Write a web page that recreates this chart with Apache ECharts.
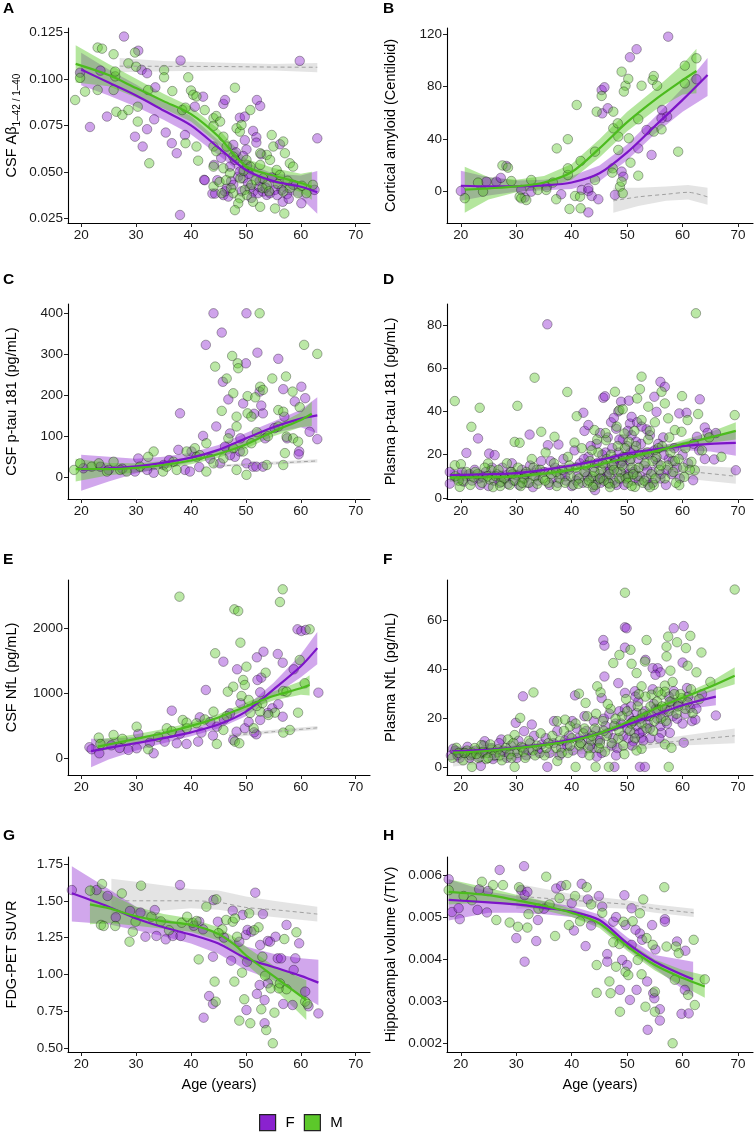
<!DOCTYPE html>
<html><head><meta charset="utf-8">
<script src="https://cdn.jsdelivr.net/npm/echarts@6/dist/echarts.min.js"></script>
<style>html,body{margin:0;padding:0;background:#fff}#c{width:755px;height:1132px}</style>
</head><body><div id="c"></div>
<script>
// ---------- DATA ----------
const X_TICKS = [20, 30, 40, 50, 60, 70];
const SEXES = ['F', 'M'];

// Panel A: CSF Abeta 42/40
const A_yticks = [0.025, 0.05, 0.075, 0.1, 0.125];
const A_F_pts = [[27.8,0.1227],[30.4,0.1151],[38.1,0.1098],[59.8,0.1096],[63.0,0.068],[21.6,0.0741],[24.7,0.0797],[31.0,0.1048],[32.0,0.103],[33.5,0.0954],[29.8,0.0689],[31.2,0.0636],[32.0,0.0729],[33.3,0.0782],[35.4,0.0711],[36.5,0.0654],[37.4,0.060],[38.9,0.0698],[38.0,0.0268],[23.5,0.1044],[19.8,0.1033],[40.7,0.085],[42.2,0.0904],[45.9,0.0865],[46.2,0.0886],[52.0,0.0886],[52.6,0.0854],[48.9,0.0791],[49.8,0.0797],[51.3,0.072],[51.9,0.0686],[51.9,0.0657],[49.8,0.067],[50.1,0.062],[49.5,0.0585],[52.8,0.0594],[56.2,0.0648],[44.2,0.0537],[42.4,0.0457],[42.5,0.0455],[43.9,0.0383],[44.4,0.0383],[45.9,0.0375],[46.8,0.0367],[47.7,0.043],[48.6,0.0474],[48.9,0.0501],[49.5,0.0465],[50.4,0.0438],[51.3,0.0394],[52.2,0.0385],[53.1,0.0394],[53.8,0.0376],[54.4,0.0385],[55.3,0.0403],[56.5,0.0403],[56.7,0.0339],[60.1,0.0331],[62.5,0.0403],[58.6,0.043],[47.7,0.0645],[47.1,0.0528],[48.0,0.0564],[50.5,0.049],[52.5,0.045],[54.8,0.047],[57.5,0.038],[46.5,0.041],[51.0,0.036],[44.8,0.0455],[46.2,0.0395],[47.3,0.045],[49.2,0.0395],[50.7,0.0412],[52.4,0.042],[53.6,0.0415],[55.7,0.0375],[57.8,0.0355],[50.2,0.0535],[48.2,0.0605],[45.5,0.0575]];
const A_M_pts = [[18.9,0.0886],[23.0,0.1168],[23.8,0.1162],[25.9,0.1132],[28.6,0.1083],[29.8,0.1141],[30.0,0.1065],[26.2,0.1013],[26.2,0.1039],[20.7,0.0931],[23.0,0.094],[25.9,0.094],[26.4,0.0823],[27.5,0.0806],[28.6,0.0832],[30.3,0.085],[30.3,0.077],[32.2,0.094],[32.4,0.0546],[35.1,0.1047],[35.1,0.1008],[36.6,0.0934],[38.4,0.0832],[39.0,0.0845],[39.5,0.1008],[40.0,0.0937],[40.4,0.0914],[41.0,0.0905],[39.0,0.0654],[41.0,0.0636],[41.3,0.056],[42.5,0.0832],[44.1,0.0788],[44.6,0.080],[45.3,0.077],[44.1,0.0747],[45.9,0.0689],[46.5,0.0636],[48.0,0.0952],[48.3,0.0734],[48.9,0.0716],[49.2,0.0752],[50.8,0.0832],[54.7,0.0698],[55.0,0.0636],[56.8,0.0663],[57.1,0.060],[58.0,0.0546],[58.6,0.0528],[53.8,0.0591],[52.6,0.060],[44.1,0.0636],[44.6,0.0611],[44.1,0.0528],[45.9,0.0519],[47.1,0.0492],[47.7,0.0582],[50.1,0.0564],[50.8,0.0528],[52.6,0.0537],[54.4,0.0564],[55.6,0.051],[44.1,0.0421],[45.6,0.0385],[47.7,0.0385],[48.9,0.0358],[48.6,0.033],[48.0,0.0294],[49.8,0.0403],[51.0,0.043],[51.3,0.0339],[52.6,0.0312],[53.8,0.043],[55.3,0.0303],[57.0,0.0276],[58.0,0.0412],[59.5,0.0385],[61.0,0.0385],[62.2,0.043],[56.8,0.0394],[56.2,0.0483],[53.1,0.0465],[19.8,0.1005],[45.2,0.0445],[46.4,0.0455],[47.3,0.0412],[49.0,0.0465],[50.2,0.0375],[51.8,0.0455],[53.0,0.0412],[54.2,0.0395],[55.8,0.0435],[57.6,0.0452],[60.2,0.0425],[49.6,0.0505]];
// fit rows: [age, fit, lower, upper]
const A_F_fit = [[20,0.105,0.0965,0.114],[25,0.098,0.091,0.105],[30,0.091,0.085,0.097],[35,0.083,0.078,0.088],[40,0.075,0.070,0.080],[45,0.063,0.059,0.067],[50,0.051,0.047,0.055],[55,0.045,0.041,0.049],[60,0.042,0.036,0.048],[63,0.039,0.0275,0.0505]];
const A_M_fit = [[19,0.108,0.098,0.118],[25,0.102,0.096,0.108],[30,0.095,0.090,0.100],[35,0.088,0.084,0.092],[40,0.081,0.077,0.085],[45,0.069,0.065,0.073],[50,0.053,0.049,0.057],[55,0.048,0.044,0.052],[60,0.044,0.039,0.049],[62,0.042,0.035,0.050]];
const A_ref = [[27,0.1068,0.1035,0.1112],[35,0.1067,0.104,0.1095],[45,0.1066,0.1045,0.1088],[55,0.1063,0.1045,0.108],[63,0.1062,0.1035,0.1085]];

// Panel B: Cortical amyloid
const B_yticks = [0, 40, 80, 120];
const B_F_pts = [[20.0,0.5],[24.6,7.6],[26.4,7.6],[28.2,19.6],[30.9,1.3],[32.7,0],[38.1,-2],[41.8,1.3],[43.0,0.5],[43.6,-3.3],[44.8,-5.8],[43.0,-15.8],[43.0,2.5],[45.4,77.5],[45.9,79.6],[45.5,59.7],[46.5,63.6],[47.8,-2.5],[49.0,15.3],[49.3,11.4],[50.5,102.5],[51.7,108.6],[52.0,33],[53.5,47],[54.4,28],[56.3,62.3],[57.2,57.2],[57.4,118.2],[62.5,85.7],[56.2,55.9],[31.5,-4.5],[35.5,3.5],[27.2,10.5]];
const B_M_pts = [[20.7,-5],[23.1,6.9],[24.0,0],[27.5,20],[28.5,18.3],[29.1,8.1],[30.6,-3.8],[30.9,-5.1],[31.8,-6.4],[32.7,8.9],[33.9,1.3],[35.4,1.3],[36.6,6.9],[37.2,-5.8],[37.3,33],[39.3,40],[39.6,-13.2],[39.3,12.7],[39.3,17.8],[40.6,-3.3],[41.5,-3.8],[40.9,66.1],[41.6,23.4],[41.6,-12.7],[44.2,8.9],[44.2,30.5],[44.5,61],[45.4,73],[47.5,61],[47.5,48.3],[48.3,52.1],[47.4,17.8],[47.3,14.5],[48.4,42],[48.4,31.8],[48.7,3.8],[49.0,7.6],[49.2,-1.3],[49.0,91.5],[49.7,80.8],[49.4,76.3],[50.2,86],[50.3,40.7],[50.6,22.1],[52.0,55.2],[52.0,12.2],[52.6,80.8],[54.6,85.2],[54.8,88.2],[55.4,80.8],[54.8,45.8],[56.2,47.5],[59.2,30.5],[60.4,96.1],[60.4,82.6],[62.5,101.7]];
const B_F_fit = [[20,4.5,-7,16],[25,4,-3,11],[30,4,0,8.5],[35,4.8,1,9],[40,7,2,12],[45,14,8,20],[50,30,24,36],[55,50,44,57],[60,70,61,79],[64.5,89,73,102]];
const B_M_fit = [[20.7,1.5,-16,19],[25,2.5,-6,11],[30,4,-0.5,9],[35,7,2.5,12],[40,15,9,21],[45,33,26,40],[50,53,46,61],[55,70,62,78],[60,85,74,97],[62.5,92,75,109]];
const B_ref = [[47.5,-7,-16,3],[52,-4,-11,3],[57,-2,-7,4],[61,-0.5,-6,5],[64.5,-4,-10,3]];

// Panel C: CSF p-tau 181
const C_yticks = [0, 100, 200, 300, 400];
const C_F_pts = [[44.1,400],[50.1,400],[45.6,353],[42.7,323],[52.1,304],[50.0,278],[55.9,289],[38.0,156],[45.8,233],[46.8,190],[47.1,107],[42.2,101],[44.6,124],[49.5,180],[52.5,209],[53.1,156],[56.8,215],[57.0,148],[58.9,185],[60.1,221],[60.8,193],[61.6,111],[63.0,93],[59.7,63],[59.6,56],[48.0,50],[48.9,63],[50.1,34],[51.3,26],[51.9,26],[47.1,54],[33.2,11],[32.0,18],[29.8,14],[37.7,67],[40.1,63],[38.9,18],[39.8,14],[30.4,46],[20.4,22],[23.5,26],[45.3,34],[53.1,26],[51.5,155],[53.5,95],[55.2,120],[49.0,95],[46.2,75],[43.5,45],[36.0,42],[27.5,21],[25.0,18],[35.0,30],[41.5,25],[57.5,95],[52.8,175]];
const C_M_pts = [[52.5,400],[44.4,270],[47.5,296],[48.5,278],[48.6,266],[46.5,241],[47.7,205],[50.3,198],[51.7,195],[52.6,221],[53.1,213],[54.8,241],[57.3,246],[60.6,323],[63.0,301],[58.5,209],[59.8,171],[45.6,162],[48.3,124],[50.3,156],[51.0,148],[48.3,148],[55.9,164],[56.8,160],[55.9,124],[57.4,99],[58.6,95],[59.5,87],[57.1,59],[56.8,30],[53.8,30],[51.0,83],[49.5,63],[47.7,71],[45.9,46],[44.1,34],[42.8,14],[41.0,50],[40.7,71],[39.2,63],[36.8,38],[34.9,14],[33.2,63],[32.2,50],[27.1,18],[25.9,38],[23.2,34],[18.7,18],[19.8,34],[21.9,26],[24.7,14],[28.3,14],[30.7,26],[35.6,26],[37.4,18],[41.6,54],[48.3,18],[50.1,6],[42.8,83],[54.0,100],[52.0,110],[46.8,95]];
const C_F_fit = [[20,18,-33,55],[25,22,-10,50],[30,27,10,45],[35,36,22,50],[40,48,37,60],[45,67,55,79],[50,95,82,108],[55,122,108,136],[60,143,122,165],[63,151,107,195]];
const C_M_fit = [[19,20,-10,45],[25,20,5,35],[30,23,12,34],[35,30,21,39],[40,41,32,50],[45,57,48,66],[50,80,70,90],[55,112,100,124],[60,140,122,158],[62,155,125,185]];
const C_ref = [[44,27,24,30],[50,31,28,34],[56,35,31,39],[63,40,36,44]];

// Panel D: Plasma p-tau 181
const D_yticks = [0, 20, 40, 60, 80];
const D_F_pts = [[35.6,80.3],[45.7,46.3],[46.0,47],[56.0,53.7],[56.8,51.4],[54.9,46.8],[55.3,39.8],[59.4,39.1],[63.1,45.6],[64.0,32.6],[64.5,30.1],[62.6,28.3],[65.7,17.8],[69.6,12.8],[23.1,27.5],[21.0,20.8],[25.1,20.5],[26.1,19.8],[32.4,29.3],[35.7,24.4],[37.6,24.7],[42.1,39.4],[42.3,31.0],[43.0,33.7],[48.9,44.5],[50.5,34.4],[50.8,37.5],[53.5,31.7],[55.0,22.1],[60.7,39.4],[61.9,8.2],[44.2,3.6],[18.0,6.6],[18.0,12.0],[19.5,9],[20.5,7.5],[21.5,11],[22,8],[22.5,13],[23.5,6],[24,9.5],[24.5,12],[25,5.5],[26,8],[26.5,11],[27,7],[27.5,14],[28,9],[28.5,6.5],[29,12],[29.5,8],[30,10.5],[30.5,6],[31,13],[31.5,9],[32,7],[32.5,15],[33,5],[33.5,10],[34,8],[34.5,17],[35,12],[36,6],[36.5,9],[37,14],[37.5,7],[38,11],[38.5,18],[39,8],[39.5,13],[40,5.5],[40.5,22],[41,10],[41.5,16],[42,7],[42.5,12],[43,19],[43.5,9],[44,14],[44.5,25],[45,11],[45.2,7],[45.5,20],[46,15],[46.3,10],[46.5,28],[47,13],[47.3,23],[47.5,8],[47.8,18],[48,32],[48.2,12],[48.5,21],[48.8,16],[49,9],[49.2,27],[49.5,14],[49.8,19],[50,24],[50.2,11],[50.5,17],[50.8,29],[51,8],[51.2,22],[51.5,13],[51.8,35],[52,18],[52.3,10],[52.5,25],[53,15],[53.5,9],[54,20],[54.5,12],[55.5,16],[56,9],[56.5,28],[57,6],[57.5,18],[58,11],[58.5,23],[59,14],[60,20],[61,16],[62,25],[63,22],[64,18],[66,30],[42.2,18],[42.8,10],[43.4,24],[43.9,6],[44.6,16],[45.1,30],[45.6,9],[46.1,21],[46.6,12],[47.1,35],[47.6,16],[48.1,6],[48.6,27],[49.1,17],[49.6,10],[50.1,31],[50.6,21],[51.1,12],[51.6,26],[52.1,8],[52.6,33],[53.1,20],[53.6,13],[54.1,29],[54.6,7],[55.1,18],[55.6,25],[56.1,11],[56.6,20],[57.1,13],[58.2,17],[59.5,9],[36.2,17],[33.7,13],[31.6,11],[29.2,16],[27.2,10],[25.6,14],[23.2,9],[20.2,12],[38.8,10],[40.8,8],[44.8,8.5],[46.8,6.5],[49.5,6],[53.8,6],[48.4,40],[50.3,45],[47.6,37]];
const D_M_pts = [[18.9,44.8],[23.4,41.7],[21.9,32.9],[33.3,55.6],[30.2,42.6],[39.2,49],[40.9,37.8],[47.8,49.1],[52.6,56.1],[52.3,50.3],[56.2,49.1],[62.4,85.4],[59.9,47.1],[69.4,38.3],[62.8,38.8],[60.9,36],[29.7,25.9],[30.6,25.5],[34.5,30.6],[36.9,28.3],[40.5,25.6],[44.1,31.4],[46.2,26.7],[48.6,40.6],[49.5,29.8],[53.8,42.2],[56.8,43.7],[57.4,36.8],[58.6,31.4],[59.8,30.6],[61.6,16.7],[62.2,12.8],[60.3,9.7],[59.4,5.9],[51.4,5.1],[50.2,9.7],[18.9,15.1],[20,15.6],[24.9,15.9],[25.5,12.8],[19.8,5.1],[19,10],[20.3,8],[21,12],[21.7,6],[22.3,9.5],[23,11],[23.8,7],[24.3,14],[25.2,8.5],[25.8,5],[26.3,10],[26.8,13],[27.3,7.5],[27.8,9],[28.3,16],[28.8,6],[29.3,11],[29.8,8],[30.3,14],[30.8,5.5],[31.3,9],[31.8,12],[32.3,7],[32.8,18],[33.3,10],[33.8,6.5],[34.3,13],[34.8,9],[35.3,21],[35.8,7],[36.3,11],[36.8,16],[37.3,5.5],[37.8,9],[38.3,13],[38.8,7],[39.3,19],[39.8,10],[40.3,6],[40.8,14],[41.3,9],[41.8,23],[42.3,12],[42.8,7],[43.3,17],[43.8,10],[44.3,6],[44.8,21],[45.3,13],[45.8,8],[46.3,18],[46.8,11],[47.3,15],[47.8,7],[48.3,24],[48.8,12],[49.3,19],[49.8,9],[50.3,26],[50.8,14],[51.3,31],[51.8,10],[52.3,20],[52.8,7],[53.3,16],[53.8,27],[54.3,11],[54.8,6],[55.3,19],[55.8,13],[56.3,24],[56.8,9],[57.3,15],[57.8,21],[58.3,12],[58.8,7],[59.3,18],[60.5,23],[61.3,13],[63.5,22],[64.8,28],[67,19],[42.6,15],[43.1,8],[43.6,22],[44.1,12],[44.6,27],[45.1,9],[45.6,16],[46.1,30],[46.6,7],[47.1,20],[47.6,13],[48.1,33],[48.6,9],[49.1,15],[49.6,23],[50.1,7],[50.6,18],[51.1,11],[51.6,24],[52.1,14],[52.6,36],[53.1,8],[53.6,21],[54.1,31],[54.6,17],[55.1,9],[55.6,23],[56.1,15],[57.6,28],[58.6,17],[60.1,14],[37.2,12],[35.2,8],[33.1,14],[31.1,7],[29.1,12],[27.1,5.5],[24.8,10],[22.6,12],[19.6,8],[39.6,15],[41.2,6.5],[43.8,5],[46.9,5],[50.8,5.5],[54.1,5],[49.2,41],[51.8,46],[55.0,35]];
const D_F_fit = [[18,10.5,8,13],[25,11,9.5,12.5],[30,11.5,10,13],[35,13,11.8,14.2],[40,15,14,16],[45,17.5,16.5,18.5],[50,20.5,19.5,21.5],[55,22.5,21,24],[60,24,22,26],[65,25,21.5,28.5],[69.6,25.5,19.5,31]];
const D_M_fit = [[18,9.4,7.5,11.5],[25,9.6,8.3,11],[30,10,9,11],[35,11.2,10.2,12.2],[40,13,12,14],[45,15.5,14.5,16.5],[50,18.5,17.5,19.5],[55,21.5,20.2,22.8],[60,25,23.3,26.7],[65,28,25.5,30.5],[69.6,31,27,35]];
const D_ref = [[57,13,10,15.5],[62,12,8.5,15],[69.6,10,6.5,14]];

// Panel E: CSF NfL
const E_yticks = [0, 1000, 2000];
const E_F_pts = [[21.5,170],[21.9,139],[23.3,77],[28.6,129],[30.1,154],[30.4,375],[33.2,77],[35.2,257],[36.5,735],[37.4,231],[39.2,221],[41.3,257],[41.9,396],[41.6,632],[42.7,1054],[45.9,1491],[48.4,1373],[48.3,411],[49.8,463],[52.0,1558],[53.2,1645],[52.8,1244],[52.1,1208],[52.6,1018],[51.9,370],[52.6,591],[54.8,771],[55.8,1609],[56.7,1475],[55.9,833],[56.7,642],[58.7,1373],[59.4,1990],[60.1,1964],[60.9,1980],[63.2,1013],[44.7,488],[47.1,694],[47.7,283],[25.5,200],[27.0,160],[32.5,240],[38.0,380],[43.5,560],[46.0,600],[50.5,560],[51.5,400],[54.0,700],[49.0,850],[44.0,350]];
const E_M_pts = [[37.9,2494],[47.9,2298],[48.6,2272],[56.7,2607],[56.2,2411],[49.0,1784],[44.4,1620],[50.1,1414],[47.7,1105],[46.7,1028],[49.5,1208],[49.8,1131],[50.5,900],[49.2,961],[53.6,1321],[56.8,1038],[57.4,1028],[59.8,1517],[61.6,1990],[60.7,1157],[59.5,704],[58.0,437],[56.8,396],[55.3,704],[54.1,668],[52.6,720],[48.0,257],[48.8,231],[44.7,221],[45.9,437],[44.1,720],[39.2,463],[38.5,591],[39.2,550],[41.0,540],[35.6,463],[30.1,488],[25.9,360],[23.2,319],[23.5,221],[32.2,139],[51.4,463],[52.0,807],[27.5,300],[34.0,330],[36.5,420],[42.5,600],[46.5,650],[50.8,700],[53.0,850]];
const E_F_fit = [[21.8,110,-140,300],[25,160,-20,300],[30,235,120,330],[35,310,230,390],[40,400,340,460],[45,520,460,580],[50,720,650,800],[55,1060,960,1160],[60,1420,1250,1600],[63,1700,1450,1950]];
const E_M_fit = [[23,180,100,290],[30,300,230,370],[35,390,330,450],[40,500,450,550],[45,630,580,680],[50,800,740,860],[55,960,890,1030],[60,1080,980,1190],[61.6,1130,970,1280]];
const E_ref = [[47,350,320,380],[55,410,385,440],[63,470,440,500]];

// Panel F: Plasma NfL
const F_yticks = [0, 20, 40, 60];
const F_F_pts = [[31.2,29.1],[40.6,29.5],[45.7,52.1],[45.9,49.8],[45.9,37.2],[49.6,57.3],[49.9,56.9],[49.6,49],[53.3,44],[54.6,40.6],[55.5,40.6],[56.0,38.9],[55.1,37.9],[58.4,56.9],[60.2,57.8],[60.0,42.9],[60.8,32.5],[61.4,24.4],[61.7,19],[62.3,19.6],[60.2,10.2],[66.0,21.3],[45.4,28.4],[48.4,34.5],[49.6,30.5],[51.4,31.2],[58.4,31.2],[57.7,14.2],[40.1,19],[36.8,19],[32.8,17.6],[29.9,18.3],[31.4,14.9],[27.3,11.5],[24.3,10.8],[18.6,7.7],[23.6,0.7],[35.6,0.3],[47.7,0.3],[52.3,0.3],[53.2,0.3],[52.6,12.2],[51.1,10.8],[51.7,22.3],[56.2,14.2],[18.2,5],[19,7],[19.8,4],[20.5,6],[21.2,8.5],[22,5.5],[22.7,7],[23.4,4.5],[24.1,9],[24.8,6],[25.5,8],[26.2,5],[26.9,10],[27.6,7],[28.3,4],[29,9],[29.7,6.5],[30.4,11],[31.1,8],[31.8,5],[32.5,10],[33.2,13],[33.9,7],[34.6,9.5],[35.3,12],[36,6],[36.7,10],[37.4,15],[38.1,8],[38.8,11],[39.5,13],[40.2,7],[40.9,16],[41.6,10],[42.3,21],[43,12],[43.7,8],[44.4,15],[45.1,11],[45.8,20],[46.5,14],[47.2,9],[47.9,18],[48.6,23],[49.3,13],[50,16],[50.3,21],[50.7,25],[51,19],[51.3,14],[51.7,17],[52,27],[52.4,20],[52.8,15],[53.2,23],[53.7,18],[54.2,12],[54.8,26],[55.4,20],[56,17],[56.8,24],[57.5,29],[58.3,21],[59.2,26],[60,18],[61,29],[62.5,24],[63.5,30],[41.2,12],[41.9,6],[42.6,15],[43.3,9],[44,19],[44.7,11],[45.4,6],[46.1,17],[46.8,22],[47.5,12],[48.2,8],[48.9,18],[49.6,24],[50.2,12],[50.9,9],[51.5,29],[52.2,14],[52.9,11],[53.5,21],[54.1,16],[54.6,32],[55.2,24],[55.8,12],[56.5,21],[57.2,18],[58,27],[59,20],[60.5,22],[34.2,6],[32.2,7],[30.1,4],[27.9,6],[25.8,3.5],[23.8,6],[21.6,4],[19.4,5],[37.8,5],[39.2,9],[44.5,4.5],[48,5]];
const F_M_pts = [[49.6,71.4],[69.4,72.7],[53.5,52.1],[48.6,46],[47.5,42.7],[50.6,48.1],[50.8,42.4],[57.4,53.5],[57.1,49.4],[59.0,51.2],[60.6,48.8],[61.4,53.8],[63.4,47],[60.9,41.6],[62.5,38.9],[57.1,45.4],[57.8,39.6],[53.2,43.3],[51.7,38.6],[52.6,33.2],[56.8,33.5],[56.2,29.8],[54.4,29.8],[59.8,28.4],[60.9,26.7],[61.8,22.3],[33.1,30.7],[30.7,20.3],[41.3,30.2],[42.5,26.4],[44.6,33.2],[45.2,30.7],[37.4,19],[38.8,19.6],[39.7,16.9],[29.7,13.3],[28.5,11.5],[19.2,8.1],[23.7,9.2],[25.5,7.4],[22.0,6.1],[37.4,2.7],[40.7,0.3],[44.3,0.3],[52.6,7.7],[51.7,7],[56.8,9.5],[58.0,8.1],[57.5,0.3],[22.0,0.3],[29.7,0.3],[55.6,23.7],[46.7,0.3],[18.5,4],[19.6,6],[20.4,3],[21.1,7],[21.8,5],[22.5,8],[23.2,4],[24,6.5],[24.6,3.5],[25.3,9.5],[26,5],[26.7,7.5],[27.4,3],[28.1,8],[28.8,5.5],[29.5,10],[30.2,6],[30.9,8.5],[31.6,4],[32.3,11],[33,7],[33.7,9],[34.4,14],[35.1,5],[35.8,10],[36.5,13],[37.2,8],[37.9,11],[38.6,15],[39.3,6],[40,12],[40.7,18],[41.4,9],[42.1,14],[42.8,21],[43.5,11],[44.2,16],[44.9,8],[45.6,19],[46.3,13],[47,24],[47.7,17],[48.4,12],[49.1,21],[49.8,28],[50.5,15],[51.2,19],[51.9,25],[52.6,18],[53.3,29],[54,21],[54.7,15],[55.4,27],[56.1,20],[56.8,31],[57.5,23],[58.2,35],[58.9,22],[59.6,30],[60.5,24],[61.5,32],[63,28],[65,35],[41.6,10],[42.3,16],[43,8],[43.7,13],[44.4,22],[45.1,10],[45.8,15],[46.5,26],[47.2,10],[47.9,20],[48.6,15],[49.3,9],[50,23],[50.7,18],[51.4,12],[52.1,30],[52.8,22],[53.5,16],[54.2,25],[54.9,19],[55.6,31],[56.3,25],[57,19],[57.7,27],[58.5,30],[59.2,25],[35.4,8],[33.4,5],[31.3,6.5],[29.1,4],[27,5],[24.9,4],[22.8,5.5],[20.7,6],[38.2,6],[39.7,9],[43.2,5],[46,6.5],[49.5,5.5]];
const F_F_fit = [[18.6,6.8,5,8.6],[25,7.3,6.2,8.4],[30,8.2,7.3,9.1],[35,9.5,8.7,10.3],[40,11.5,10.7,12.3],[45,14,13.1,14.9],[50,17.5,16.5,18.5],[55,21.5,20.2,22.8],[60,25.5,23.6,27.4],[66,29,25.5,32.5]];
const F_M_fit = [[18.6,6.1,4.3,7.9],[25,6.9,5.9,7.9],[30,8,7.2,8.8],[35,9.3,8.5,10.1],[40,11,10.2,11.8],[45,14,13.1,14.9],[50,18.5,17.4,19.6],[55,24,22.8,25.2],[60,28.5,27,30],[65,33,31,35],[69.4,37.5,34,41]];
const F_ref = [[18.6,2.5,0.5,4.5],[30,4.5,3,6],[40,6.5,5.2,7.8],[50,8.5,7,10],[60,11,9,13],[69.4,13,10,16]];

// Panel G: FDG-PET SUVR
const G_yticks = [0.5, 0.75, 1.0, 1.25, 1.5, 1.75];
const G_F_pts = [[18.3,1.573],[22.8,1.573],[24.8,1.533],[26.3,1.388],[28.9,1.431],[31.7,1.256],[33.4,1.437],[33.7,1.261],[35.4,1.238],[36.7,1.261],[38.0,1.607],[38.1,1.261],[41.5,1.358],[42.2,1.306],[44.0,1.12],[43.3,0.853],[44.0,0.799],[42.3,0.706],[44.1,1.505],[44.9,1.358],[47.3,1.093],[47.6,1.433],[48.8,1.222],[49.4,1.404],[50.0,1.268],[50.3,1.302],[50.2,1.086],[50.1,0.758],[51.7,1.555],[53.1,1.41],[52.6,1.2],[54.0,1.227],[54.4,1.222],[52.0,0.867],[52.5,0.928],[53.4,0.826],[53.4,0.668],[54.0,0.939],[55.4,1.256],[55.8,1.109],[56.4,1.109],[56.8,0.799],[57.4,1.336],[58.7,1.03],[58.5,0.792],[59.0,1.109],[59.7,1.211],[60.8,0.883],[61.4,0.783],[63.2,0.735],[30.8,1.42],[40.5,1.33],[46.0,1.25],[51.0,1.29]];
const G_M_pts = [[21.6,1.569],[23.8,1.614],[23.6,1.336],[24.1,1.329],[26.2,1.329],[27.4,1.55],[28.8,1.222],[29.4,1.29],[29.9,1.358],[30.9,1.603],[32.8,1.392],[38.3,1.351],[39.3,1.392],[40.3,1.351],[41.0,1.363],[41.4,1.102],[42.8,1.46],[44.3,0.951],[44.5,0.815],[44.6,1.51],[45.7,1.306],[46.4,1.37],[47.6,1.358],[48.4,1.256],[48.8,0.686],[47.9,0.951],[49.3,1.012],[49.7,0.831],[50.6,1.415],[50.8,0.668],[52.3,1.32],[52.8,0.763],[53.5,0.991],[54.5,0.905],[53.7,0.622],[54.9,0.532],[55.2,0.74],[56.0,0.905],[56.2,0.939],[57.4,0.899],[59.2,1.286],[60.8,0.815],[61.2,0.799],[34.5,1.36],[36.0,1.30],[45.0,1.28],[48.0,1.38],[51.5,1.30],[53.0,1.12],[57.0,1.24]];
const G_F_fit = [[18.3,1.551,1.36,1.735],[25,1.46,1.34,1.58],[30,1.38,1.30,1.46],[35,1.32,1.26,1.38],[40,1.27,1.21,1.33],[45,1.21,1.14,1.28],[50,1.11,1.03,1.19],[55,1.05,0.96,1.14],[60,0.99,0.86,1.11],[63.2,0.944,0.79,1.10]];
const G_M_fit = [[21.6,1.476,1.34,1.61],[25,1.45,1.35,1.55],[30,1.395,1.33,1.46],[35,1.36,1.31,1.41],[40,1.336,1.29,1.38],[45,1.275,1.23,1.32],[48,1.20,1.15,1.25],[50,1.13,1.07,1.19],[55,0.99,0.91,1.06],[61,0.826,0.69,0.96]];
const G_ref = [[25.5,1.50,1.40,1.65],[30,1.50,1.42,1.63],[40,1.50,1.45,1.58],[45,1.49,1.44,1.57],[50,1.455,1.41,1.53],[55,1.44,1.39,1.50],[63,1.41,1.36,1.46]];

// Panel H: Hippocampal volume
const H_yticks = [0.002, 0.003, 0.004, 0.005, 0.006];
const H_F_pts = [[17.8,0.0059],[18.4,0.00512],[19.8,0.00495],[19.6,0.00521],[23.0,0.00517],[23.3,0.00566],[24.9,0.00562],[24.7,0.00511],[27.0,0.00612],[30.0,0.0045],[30.9,0.00564],[31.4,0.00621],[31.5,0.00552],[31.5,0.00394],[33.6,0.00443],[33.9,0.00493],[37.2,0.00568],[38.1,0.00574],[40.0,0.00533],[40.4,0.00468],[41.8,0.00579],[42.5,0.00431],[42.9,0.00542],[44.9,0.0055],[45.5,0.00525],[46.4,0.00412],[46.4,0.00394],[47.5,0.00489],[48.7,0.00327],[49.1,0.00398],[49.5,0.00552],[49.7,0.00481],[50.0,0.00386],[50.5,0.00303],[50.8,0.00521],[50.8,0.00434],[51.7,0.00327],[52.3,0.00461],[52.7,0.00446],[53.6,0.00347],[53.7,0.00232],[54.7,0.00319],[54.9,0.00307],[54.5,0.00481],[55.1,0.00423],[56.8,0.00495],[56.8,0.00489],[55.9,0.00281],[59.0,0.00442],[59.8,0.0027],[61.1,0.00271],[60.4,0.00327],[55.9,0.00254],[32.0,0.0056],[35.0,0.0052],[43.5,0.0048],[48.0,0.0050],[51.5,0.0047],[60.5,0.0042]];
const H_M_pts = [[17.8,0.00564],[23.8,0.00584],[25.8,0.00576],[27.6,0.00576],[26.4,0.00493],[28.8,0.00487],[30.3,0.00477],[30.5,0.00571],[32.0,0.00475],[32.2,0.00507],[35.4,0.00596],[37.0,0.00455],[37.8,0.00545],[39.0,0.00576],[39.5,0.00481],[40.6,0.0055],[42.7,0.00571],[44.5,0.00386],[44.5,0.0032],[46.8,0.00347],[47.0,0.00319],[48.0,0.00382],[48.6,0.00436],[48.7,0.00275],[49.3,0.00489],[49.7,0.0037],[50.2,0.00362],[51.9,0.00398],[52.3,0.00509],[52.6,0.00364],[52.9,0.00542],[53.3,0.00287],[54.6,0.00434],[55.0,0.00323],[55.0,0.00275],[56.7,0.00571],[57.1,0.0043],[58.2,0.002],[58.6,0.00351],[58.8,0.0043],[59.3,0.00414],[61.0,0.00315],[62.0,0.00446],[62.2,0.00291],[64.0,0.00352],[20.5,0.0055],[22.0,0.0054],[34.0,0.0052],[36.0,0.0053],[41.5,0.0049],[43.5,0.0053],[45.5,0.0051],[47.5,0.0044],[51.0,0.0049],[53.5,0.0045]];
const H_F_fit = [[17.8,0.00541,0.00492,0.0059],[25,0.00535,0.0051,0.0056],[30,0.0053,0.0051,0.0055],[35,0.00522,0.00507,0.00537],[40,0.00513,0.005,0.00526],[45,0.00493,0.0048,0.00506],[50,0.00438,0.00424,0.00452],[55,0.00394,0.00378,0.0041],[61.9,0.00352,0.0031,0.00394]];
const H_M_fit = [[17.8,0.0056,0.0053,0.0059],[25,0.00552,0.00535,0.00569],[30,0.0054,0.00527,0.00553],[35,0.00527,0.00516,0.00538],[40,0.0051,0.005,0.0052],[45,0.00485,0.00474,0.00496],[50,0.00431,0.0042,0.00442],[55,0.00386,0.00373,0.00399],[60,0.00355,0.00336,0.00374],[64,0.00335,0.00308,0.00362]];
const H_ref = [[30,0.0055,0.0052,0.0058],[40,0.0054,0.00525,0.00555],[50,0.0053,0.0052,0.0054],[55,0.0052,0.0051,0.0053],[62,0.0051,0.005,0.0052]];

// ---------- LAYOUT / STYLE ----------
const FONT = "'Liberation Sans', Arial, Helvetica, sans-serif";
const COLS = [{left:68, width:302, xmin:17.6, xmax:72.6, tagX:3}, {left:447, width:306, xmin:17.5, xmax:72.7, tagX:383}];
const ROW_TOP = [28, 304, 580, 857];
const ROW_H = 195;
const COLORS = {
  F: {pt:'rgba(140,34,207,0.52)', band:'rgba(140,34,207,0.40)', line:'#7c14c8', key:'#8a22cf'},
  M: {pt:'rgba(92,200,42,0.52)', band:'rgba(92,200,42,0.46)', line:'#4cbb1e', key:'#5cc82a'}
};
const SM = 0.3;

const panels = [
  {tag:'A', name:'{n|CSF Aβ}{s|1–42 / 1–40}', ymin:0.0225, ymax:0.1273, yt:A_yticks, dec:3, F:A_F_pts, M:A_M_pts, fitF:A_F_fit, fitM:A_M_fit, ref:A_ref},
  {tag:'B', name:'{n|Cortical amyloid (Centiloid)}', ymin:-23.9, ymax:124.8, yt:B_yticks, dec:0, F:B_F_pts, M:B_M_pts, fitF:B_F_fit, fitM:B_M_fit, ref:B_ref},
  {tag:'C', name:'{n|CSF p-tau 181 (pg/mL)}', ymin:-52.9, ymax:422.7, yt:C_yticks, dec:0, F:C_F_pts, M:C_M_pts, fitF:C_F_fit, fitM:C_M_fit, ref:C_ref},
  {tag:'D', name:'{n|Plasma p-tau 181 (pg/mL)}', ymin:-0.5, ymax:89.7, yt:D_yticks, dec:0, F:D_F_pts, M:D_M_pts, fitF:D_F_fit, fitM:D_M_fit, ref:D_ref},
  {tag:'E', name:'{n|CSF NfL (pg/mL)}', ymin:-258, ymax:2751, yt:E_yticks, dec:0, F:E_F_pts, M:E_M_pts, fitF:E_F_fit, fitM:E_M_fit, ref:E_ref},
  {tag:'F', name:'{n|Plasma NfL (pg/mL)}', ymin:-3.0, ymax:76.6, yt:F_yticks, dec:0, F:F_F_pts, M:F_M_pts, fitF:F_F_fit, fitM:F_M_fit, ref:F_ref},
  {tag:'G', name:'{n|FDG-PET SUVR}', ymin:0.4728, ymax:1.7976, yt:G_yticks, dec:2, F:G_F_pts, M:G_M_pts, fitF:G_F_fit, fitM:G_M_fit, ref:G_ref},
  {tag:'H', name:'{n|Hippocampal volume (/TIV)}', ymin:0.001793, ymax:0.006428, yt:H_yticks, dec:3, F:H_F_pts, M:H_M_pts, fitF:H_F_fit, fitM:H_M_fit, ref:H_ref}
];

const grids = [], xAxes = [], yAxes = [], series = [], graphics = [];

// confidence ribbon: polygon through upper edge then lower edge, placed with the axis scales
function bandSeries(i, rows, fill) {
  return {
    type:'custom', xAxisIndex:i, yAxisIndex:i, silent:true, clip:true,
    data:[[rows[0][0], rows[0][1]]],
    renderItem:(params, api) => {
      const up = rows.map(r => api.coord([r[0], r[3]]));
      const lo = rows.map(r => api.coord([r[0], r[2]])).reverse();
      return {type:'polygon', shape:{points: up.concat(lo)}, style:{fill: fill}};
    }
  };
}
function fitSeries(i, rows, style) {
  return {type:'line', xAxisIndex:i, yAxisIndex:i, smooth:SM, symbol:'none', showSymbol:false, silent:true,
    data: rows.map(r => [r[0], r[1]]), lineStyle: style};
}

panels.forEach((p, i) => {
  const col = COLS[i % 2], row = Math.floor(i / 2);
  grids.push({left:col.left, top:ROW_TOP[row], width:col.width, height:ROW_H});
  const axisFont = {fontSize:13.5, color:'#1a1a1a', fontFamily:FONT};
  xAxes.push({
    type:'value', gridIndex:i, min:col.xmin, max:col.xmax,
    axisLine:{show:true, onZero:false, lineStyle:{color:'#000', width:1.1}},
    axisTick:{show:true, length:4, customValues:X_TICKS, lineStyle:{color:'#222'}},
    axisLabel:Object.assign({customValues:X_TICKS, margin:5}, axisFont),
    splitLine:{show:false},
    name: row === 3 ? 'Age (years)' : '', nameLocation:'middle', nameGap:25,
    nameTextStyle:{fontSize:14.5, color:'#000', fontFamily:FONT}
  });
  yAxes.push({
    type:'value', gridIndex:i, min:p.ymin, max:p.ymax,
    axisLine:{show:true, onZero:false, lineStyle:{color:'#000', width:1.1}},
    axisTick:{show:true, length:4, customValues:p.yt, lineStyle:{color:'#222'}},
    axisLabel:Object.assign({customValues:p.yt, margin:5, formatter: v => p.dec ? Number(v).toFixed(p.dec) : String(v)}, axisFont),
    splitLine:{show:false},
    name:p.name, nameLocation:'middle', nameRotate:90, nameGap:46,
    nameTextStyle:{color:'#000', fontFamily:FONT, rich:{
      n:{fontSize:14.5, color:'#000', fontFamily:FONT, lineHeight:20, verticalAlign:'middle'},
      s:{fontSize:10, color:'#000', fontFamily:FONT, lineHeight:20, verticalAlign:'bottom'}
    }}
  });
  // reference (grey) ribbon + dashed line
  series.push(bandSeries(i, p.ref, 'rgba(195,195,195,0.45)'));
  series.push(fitSeries(i, p.ref, {color:'#a0a0a0', width:1, type:[4,3]}));
  // points
  SEXES.forEach(s => {
    series.push({type:'scatter', name:s, xAxisIndex:i, yAxisIndex:i, data:p[s], symbolSize:9.5,
      itemStyle:{color:COLORS[s].pt, borderColor:'rgba(0,0,0,0.5)', borderWidth:0.8}});
  });
  // smooths: ribbon then line, per group
  series.push(bandSeries(i, p.fitF, COLORS.F.band));
  series.push(fitSeries(i, p.fitF, {color:COLORS.F.line, width:2.2}));
  series.push(bandSeries(i, p.fitM, COLORS.M.band));
  series.push(fitSeries(i, p.fitM, {color:COLORS.M.line, width:2.2}));
  // panel tag
  const tagY = [8.5, 280, 560, 836][row];
  graphics.push({type:'text', x:col.tagX, y:tagY, style:{text:p.tag, font:'bold 15.5px ' + FONT, fill:'#000', verticalAlign:'middle', align:'left'}});
});

const chart = echarts.init(document.getElementById('c'), null, {renderer:'canvas'});
chart.setOption({
  animation:false,
  backgroundColor:'#fff',
  grid:grids, xAxis:xAxes, yAxis:yAxes, series:series, graphic:graphics,
  legend:{
    left:259, top:1114, itemWidth:16, itemHeight:16, itemGap:9, padding:0, selectedMode:false,
    textStyle:{fontSize:15, color:'#000', fontFamily:FONT, padding:[0,0,0,5]},
    data: SEXES.map(s => ({name:s, icon:'rect', itemStyle:{color:COLORS[s].key, borderColor:'#222', borderWidth:1.2, opacity:1}}))
  }
});
</script></body></html>
